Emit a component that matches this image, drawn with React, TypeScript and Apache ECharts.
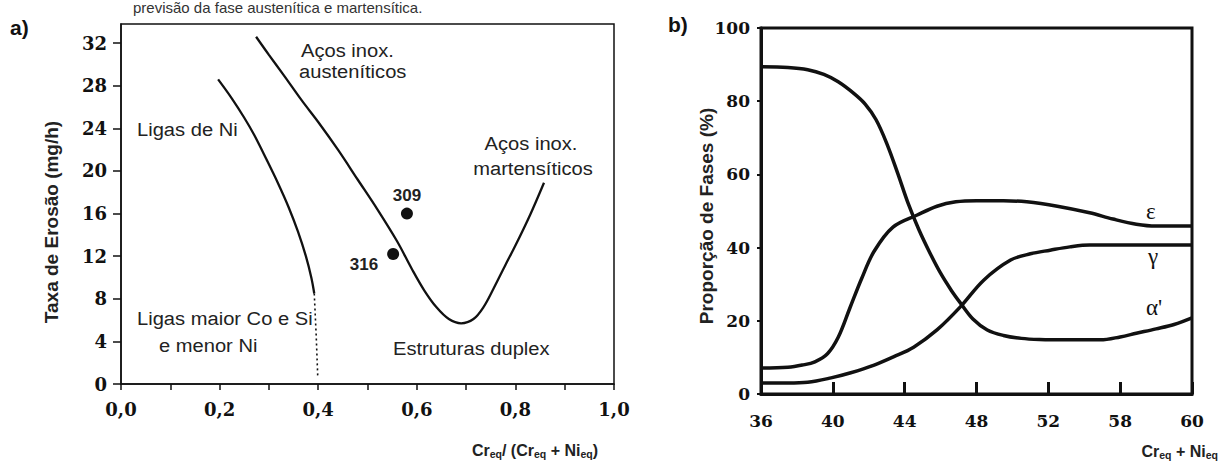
import React, { useEffect, useRef } from "react";
import * as echarts from "echarts";

// ---------- Panel a) Taxa de erosão ----------
const xTicksA = [0, 0.2, 0.4, 0.6, 0.8, 1.0];
const xTickLabelsA = ["0,0", "0,2", "0,4", "0,6", "0,8", "1,0"];
const yTicksA = [0, 4, 8, 12, 16, 20, 24, 28, 32];

// Ligas de Ni (solid part)
const niAlloyX = [0.197, 0.225, 0.25, 0.27, 0.295, 0.318, 0.34, 0.359, 0.375, 0.386, 0.392];
const niAlloyY = [28.6, 26.8, 25.0, 23.4, 21.1, 18.9, 16.6, 14.3, 12.0, 10.0, 8.5];
// dotted continuation
const niDottedX = [0.392, 0.396, 0.399];
const niDottedY = [8.5, 4.5, 0.8];

// Aços inox. (austeníticos -> duplex -> martensíticos)
const steelX = [0.274, 0.3, 0.33, 0.367, 0.4, 0.44, 0.48, 0.52, 0.56, 0.59, 0.615, 0.64, 0.665, 0.69, 0.715, 0.735, 0.755, 0.78, 0.8, 0.83, 0.858];
const steelY = [32.6, 30.9, 29.0, 26.6, 24.6, 22.0, 19.2, 16.4, 13.4, 10.8, 8.8, 7.2, 6.1, 5.7, 6.1, 7.2, 8.9, 11.2, 13.0, 15.9, 18.9];

// measured grades
const gradeLabels = ["309", "316"];
const gradeX = [0.58, 0.552];
const gradeY = [16.0, 12.2];

// ---------- Panel b) Proporção de fases ----------
const xTicksB = [36, 40, 44, 48, 52, 56, 60];
const xTickLabelsB = ["36", "40", "44", "48", "52", "58", "60"];
const yTicksB = [0, 20, 40, 60, 80, 100];

const alphaX = [36, 37.5, 38.6, 39.5, 40.3, 41.2, 41.8, 42.4, 43.0, 43.6, 44.2, 44.8, 45.4, 46.0, 46.6, 47.1, 47.8, 48.6, 49.5, 50.5, 51.5, 53.0, 54.9, 56.0, 56.9, 58.0, 59.0, 60.0];
const alphaY = [89.4, 89.2, 88.6, 87.3, 85.3, 82.0, 79.2, 75.0, 68.5, 60.5, 52.0, 44.8, 38.6, 33.0, 28.3, 24.9, 20.5, 17.5, 16.0, 15.2, 14.9, 14.8, 14.8, 15.6, 16.6, 17.8, 19.0, 20.8];

const epsX = [36, 37.5, 38.3, 39.0, 39.7, 40.3, 40.95, 41.6, 42.3, 43.35, 44.7, 45.8, 46.85, 48, 49.5, 50.8, 52.5, 54.3, 55.6, 56.9, 58, 60];
const epsY = [7.1, 7.3, 7.9, 8.8, 11.0, 15.5, 23.5, 31.5, 39.0, 45.6, 48.9, 51.3, 52.5, 52.8, 52.8, 52.5, 51.3, 49.5, 47.8, 46.4, 45.9, 45.9];

const gammaX = [36, 37.5, 38.6, 39.9, 41.0, 42.3, 43.4, 44.5, 45.8, 47.1, 48.4, 49.9, 51.0, 52.1, 53.2, 54.3, 56, 58, 60];
const gammaY = [3.0, 3.0, 3.2, 4.4, 5.8, 7.9, 10.2, 12.8, 17.5, 23.8, 31.1, 36.6, 38.3, 39.3, 40.2, 40.7, 40.7, 40.7, 40.7];

const zip = (xs: number[], ys: number[]) => xs.map((x, i) => [x, ys[i]]);
const pickLabel = (ticks: number[], labels: string[]) => (v: number) => {
  const i = ticks.findIndex((t) => Math.abs(t - v) < 1e-6);
  return i >= 0 ? labels[i] : "";
};

const ink = "#111";
const txt = "#222";
const sans = "'Liberation Sans', Arial, sans-serif";
const serif = "'DejaVu Serif', serif";

function buildOption(): any {
  const lineA = { color: ink, width: 2.3 };
  const lineB = { color: ink, width: 3.5 };
  const serifLabel = { fontFamily: serif, fontWeight: "bold", fontSize: 18, color: ink };
  const T = (x: number, y: number, text: string, extra: any = {}, scaleX = 1.06) => ({
    type: "text",
    x,
    y,
    scaleX,
    style: {
      text,
      fill: txt,
      font: `19px ${sans}`,
      textAlign: "left",
      textVerticalAlign: "middle",
      ...extra,
    },
  });
  const subRich = {
    a: { fontFamily: sans, fontWeight: "bold", fontSize: 16, lineHeight: 18, fill: txt },
    s: { fontFamily: sans, fontWeight: "bold", fontSize: 10.5, lineHeight: 10, verticalAlign: "bottom", fill: txt },
  };
  const lineSeries = (xi: number, xs: number[], ys: number[], style: any, smooth: any = 0.35) => ({
    type: "line", xAxisIndex: xi, yAxisIndex: xi, data: zip(xs, ys),
    showSymbol: false, symbol: "none", smooth, lineStyle: style,
  });
  return {
    animation: false,
    backgroundColor: "#fff",
    grid: [
      { left: 121, top: 24, width: 493, height: 360, show: true, borderColor: ink, borderWidth: 1.5, backgroundColor: "transparent", outerBoundsMode: "none", containLabel: false },
      { left: 761, top: 28, width: 431, height: 366, show: true, borderColor: ink, borderWidth: 3, backgroundColor: "transparent", outerBoundsMode: "none", containLabel: false },
    ],
    xAxis: [
      {
        type: "value", gridIndex: 0, min: 0, max: 1, interval: 0.2,
        axisLine: { show: true, onZero: false, lineStyle: { color: ink, width: 1.5 } },
        axisTick: { show: true, inside: false, length: 6, lineStyle: { color: ink, width: 1.5 } },
        minorTick: { show: true, splitNumber: 2, length: 6, lineStyle: { color: ink, width: 1.5 } },
        splitLine: { show: false }, minorSplitLine: { show: false },
        axisLabel: { ...serifLabel, margin: 16, formatter: pickLabel(xTicksA, xTickLabelsA) },
      },
      {
        type: "value", gridIndex: 1, min: 36, max: 60, interval: 4,
        axisLine: { show: true, onZero: false, lineStyle: { color: ink, width: 3 } },
        axisTick: { show: true, inside: true, length: 12, lineStyle: { color: ink, width: 3 } },
        splitLine: { show: false },
        axisLabel: { ...serifLabel, fontSize: 17, margin: 18, formatter: pickLabel(xTicksB, xTickLabelsB) },
      },
    ],
    yAxis: [
      {
        type: "value", gridIndex: 0, min: 0, max: 33.8,
        axisLine: { show: true, onZero: false, lineStyle: { color: ink, width: 1.5 } },
        axisTick: { show: true, inside: false, length: 8, customValues: yTicksA, lineStyle: { color: ink, width: 1.5 } },
        splitLine: { show: false },
        axisLabel: { ...serifLabel, margin: 14, customValues: yTicksA, formatter: (v: number) => String(v) },
      },
      {
        type: "value", gridIndex: 1, min: 0, max: 100, interval: 20,
        axisLine: { show: true, onZero: false, lineStyle: { color: ink, width: 3 } },
        axisTick: { show: true, inside: false, length: 4, lineStyle: { color: ink, width: 2 } },
        splitLine: { show: false },
        axisLabel: { ...serifLabel, fontSize: 17, margin: 11, formatter: pickLabel(yTicksB, yTicksB.map(String)) },
      },
    ],
    series: [
      lineSeries(0, niAlloyX, niAlloyY, lineA),
      lineSeries(0, niDottedX, niDottedY, { color: ink, width: 1.6, type: [2, 3] }, false),
      lineSeries(0, steelX, steelY, lineA),
      {
        type: "scatter", xAxisIndex: 0, yAxisIndex: 0, symbolSize: 12, itemStyle: { color: ink, opacity: 1 },
        data: gradeX.map((x, i) => ({
          value: [x, gradeY[i]],
          name: gradeLabels[i],
          label: i === 0 ? { position: "top", distance: 4 } : { position: "left", distance: 9, offset: [0, 10] },
        })),
        label: { show: true, formatter: "{b}", fontFamily: sans, fontWeight: "bold", fontSize: 17, color: txt, opacity: 1 },
      },
      lineSeries(1, alphaX, alphaY, lineB),
      lineSeries(1, epsX, epsY, lineB),
      lineSeries(1, gammaX, gammaY, lineB),
    ],
    graphic: [
      // caption line at the very top
      T(133, 7, "previsão da fase austenítica e martensítica.", { font: `15px ${sans}`, fill: "#333" }, 1),
      // panel a)
      T(10, 27, "a)", { font: `bold 21px ${sans}`, fill: ink }, 1),
      T(301, 50, "Aços inox."),
      T(299, 71, "austeníticos"),
      T(137, 129, "Ligas de Ni"),
      T(531, 143, "Aços inox.", { textAlign: "center" }),
      T(533, 168, "martensíticos", { textAlign: "center" }),
      T(137, 318, "Ligas maior Co e Si"),
      T(159, 345, "e menor Ni"),
      T(393, 348, "Estruturas duplex"),
      {
        type: "text", x: 51, y: 222, rotation: Math.PI / 2,
        style: { text: "Taxa de Erosão (mg/h)", fill: txt, font: `bold 19px ${sans}`, textAlign: "center", textVerticalAlign: "middle" },
      },
      {
        type: "text", x: 598, y: 450,
        style: {
          text: "{a|Cr}{s|eq}{a|/ (Cr}{s|eq}{a| + Ni}{s|eq}{a|)}",
          rich: subRich, textAlign: "right", textVerticalAlign: "middle",
        },
      },
      // panel b)
      T(668, 24, "b)", { font: `bold 21px ${sans}`, fill: ink }, 1),
      {
        type: "text", x: 706, y: 216, rotation: Math.PI / 2,
        style: { text: "Proporção de Fases (%)", fill: txt, font: `bold 19px ${sans}`, textAlign: "center", textVerticalAlign: "middle" },
      },
      {
        type: "text", x: 1218, y: 451,
        style: {
          text: "{a|Cr}{s|eq}{a| + Ni}{s|eq}",
          rich: subRich, textAlign: "right", textVerticalAlign: "middle",
        },
      },
      T(1146, 211, "ε", { font: `23px 'Liberation Serif', serif`, fill: ink }, 1),
      T(1148, 256, "γ", { font: `23px 'Liberation Serif', serif`, fill: ink }, 1),
      T(1146, 307, "α'", { font: `23px 'Liberation Serif', serif`, fill: ink }, 1),
    ],
  };
}

export default function App() {
  const ref = useRef<HTMLDivElement>(null);
  useEffect(() => {
    if (!ref.current) return;
    const chart = echarts.init(ref.current, undefined, { renderer: "svg" });
    chart.setOption(buildOption());
    return () => chart.dispose();
  }, []);
  return (
    <div
      ref={ref}
      style={{ position: "fixed", left: 0, top: 0, width: 1229, height: 464, background: "#fff" }}
    />
  );
}
